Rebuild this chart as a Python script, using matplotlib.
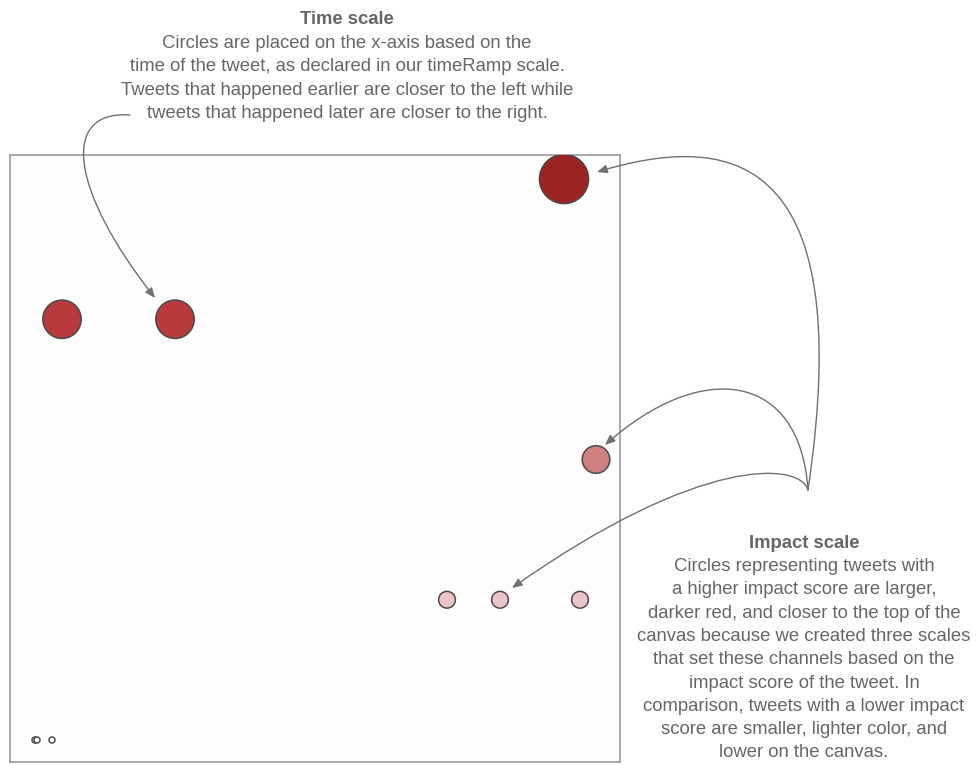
import matplotlib.pyplot as plt
import numpy as np
from matplotlib.colors import LinearSegmentedColormap
from matplotlib.patches import FancyArrowPatch
from matplotlib.path import Path

plt.rcParams['font.family'] = ['Liberation Sans', 'DejaVu Sans']

# Tweets: time of tweet (x) and impact score (y, size, colour)
tweet_time = [25, 27, 42, 52, 165, 437, 490, 554, 570, 586]
tweet_impact = [0, 0, 0, 3, 3, 1, 1, 4, 1, 2]

time_title = 'Time scale'
time_text = ['Circles are placed on the x-axis based on the',
             'time of the tweet, as declared in our timeRamp scale.',
             'Tweets that happened earlier are closer to the left while',
             'tweets that happened later are closer to the right.']
impact_title = 'Impact scale'
impact_text = ['Circles representing tweets with',
               'a higher impact score are larger,',
               'darker red, and closer to the top of the',
               'canvas because we created three scales',
               'that set these channels based on the',
               'impact score of the tweet. In',
               'comparison, tweets with a lower impact',
               'score are smaller, lighter color, and',
               'lower on the canvas.']

W, H = 980, 765
DPI = 100
fig = plt.figure(figsize=(W / DPI, H / DPI), dpi=DPI)
fig.patch.set_facecolor('white')

# canvas box
ax = fig.add_axes([10 / W, 3 / H, 610 / W, 607 / H])
ax.set_facecolor('#fdfdfd')
for s in ax.spines.values():
    s.set_color('#9a9a9a')
    s.set_linewidth(1.2)
ax.set_xticks([])
ax.set_yticks([])
ax.set_xlim(0, 610)
ax.set_ylim(-22 / 140.25, (607 - 22) / 140.25)

# scales: radius (px) and colour from impact score
def radius_scale(v):
    return 3 + 5.4 * np.asarray(v, dtype=float)

cmap = LinearSegmentedColormap.from_list(
    'impact', ['#ffffff', '#ebc5c5', '#d08080', '#b83a3c', '#9b2423'])

r_px = radius_scale(tweet_impact)
sizes = (2 * r_px * 72 / DPI) ** 2
ax.scatter(tweet_time, tweet_impact, s=sizes, c=tweet_impact, cmap=cmap,
           vmin=0, vmax=4, edgecolors='#4a4a4a', linewidths=1.1, zorder=3)

# overlay for annotations in pixel coordinates
ov = fig.add_axes([0, 0, 1, 1], facecolor='none')
ov.set_xlim(0, W)
ov.set_ylim(H, 0)
ov.axis('off')

txt_color = '#666666'
fs = 13.3
ov.text(347, 19, time_title, ha='center', va='center', fontsize=fs,
        fontweight='bold', color=txt_color)
for i, line in enumerate(time_text):
    ov.text(347, 43 + 23.6 * i, line, ha='center', va='center', fontsize=fs,
            color=txt_color)

ov.text(804, 543, impact_title, ha='center', va='center', fontsize=fs,
        fontweight='bold', color=txt_color)
for i, line in enumerate(impact_text):
    ov.text(804, 566.5 + 23.3 * i, line, ha='center', va='center', fontsize=fs,
            color=txt_color)

def curve(p0, p1, p2, p3):
    path = Path([p0, p1, p2, p3],
                [Path.MOVETO, Path.CURVE4, Path.CURVE4, Path.CURVE4])
    arr = FancyArrowPatch(path=path, arrowstyle='-|>,head_length=6,head_width=2.5',
                          color='#707070', lw=1.0, zorder=5)
    ov.add_patch(arr)

curve((130, 115), (60, 110), (70, 190), (155, 298))
curve((808, 490), (860, 140), (720, 135), (597, 172))
curve((808, 490), (800, 370), (700, 360), (605, 445))
curve((808, 490), (800, 462), (700, 455), (512, 588))

fig.savefig('out.png', dpi=DPI)
